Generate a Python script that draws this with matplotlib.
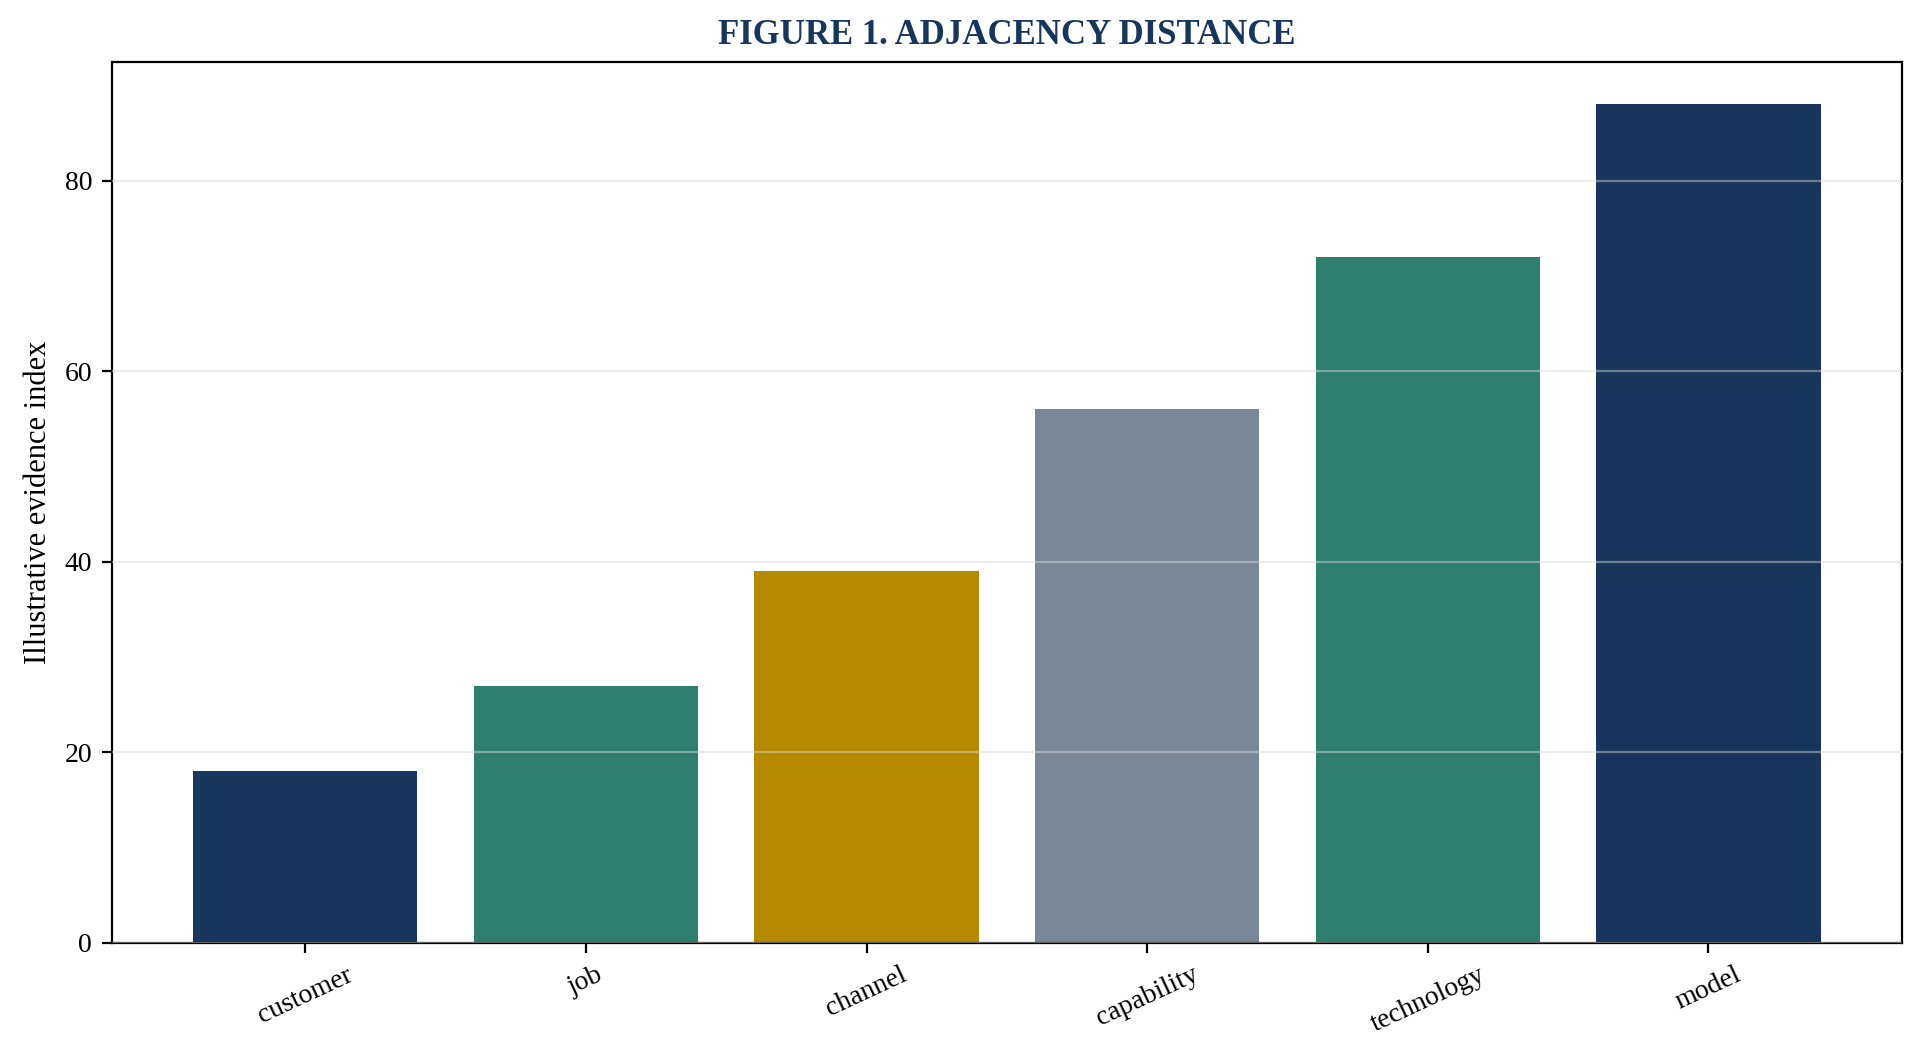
import matplotlib
matplotlib.use("Agg")
import matplotlib.pyplot as plt

# data
categories = ["customer", "job", "channel", "capability", "technology", "model"]
values = [18, 27, 39, 56, 72, 88]
bar_colors = ["#18365d", "#2e7f6e", "#b58900", "#7a8796", "#2e7f6e", "#18365d"]

plt.rcParams["font.family"] = ["Liberation Serif", "DejaVu Serif"]
plt.rcParams["font.size"] = 10

fig, ax = plt.subplots(figsize=(9.62, 5.29), dpi=200)
fig.subplots_adjust(left=0.058, right=0.9886, top=0.941, bottom=0.1087)

ax.bar(categories, values, color=bar_colors, width=0.8, zorder=2)

# grid sits above the bars, faint
ax.set_axisbelow(False)
ax.yaxis.grid(True, color="#d9d9d9", alpha=0.45, linewidth=0.8, zorder=3)
ax.set_yticks([0, 20, 40, 60, 80])
ax.tick_params(axis="x", labelrotation=25)
for lbl in ax.get_xticklabels():
    lbl.set_ha("center")

ax.set_ylabel("Illustrative evidence index", fontsize=11)
ax.set_title("FIGURE 1. ADJACENCY DISTANCE", fontsize=12.5, fontweight="bold",
             color="#18365d", pad=6.5)

fig.savefig("out.png", dpi=200)
